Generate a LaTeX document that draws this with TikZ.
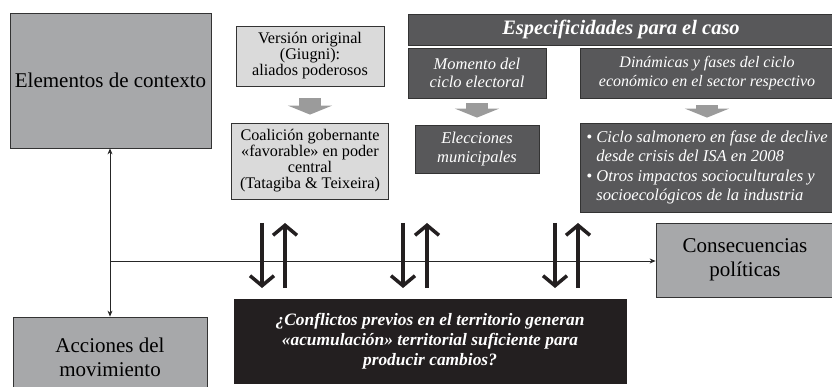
\documentclass[tikz,border=0pt]{standalone}
\usepackage{fontspec}
\setmainfont{Liberation Serif}
\usetikzlibrary{arrows.meta}
\definecolor{contextgray}{HTML}{A7A8AA}
\definecolor{palegray}{HTML}{DADADA}
\definecolor{darkbox}{HTML}{58585A}
\definecolor{blockgray}{HTML}{9B9B9B}
\definecolor{inkblack}{HTML}{231F20}
\begin{document}
\begin{tikzpicture}[x=1pt,y=-1pt,
    mainbox/.style={draw=black!80, fill=contextgray, line width=0.8pt, align=center,
      inner sep=0pt, font=\fontsize{21}{24}\selectfont},
    palebox/.style={draw=black!80, fill=palegray, line width=0.8pt, align=center,
      inner sep=0pt, font=\fontsize{16.2}{16}\selectfont},
    darkbox/.style={draw=black!80, fill=darkbox, text=white, line width=0.8pt, align=center,
      inner sep=0pt, font=\itshape\fontsize{16.5}{18.5}\selectfont},
    thinarrow/.style={draw=black!85, line width=0.8pt, -{Stealth[length=6pt,width=5pt]}},
    blockarrow/.style={draw=blockgray, line width=22pt, -{Triangle[length=9pt,width=44pt]}},
    updown/.style={draw=inkblack, line width=3.5pt, -{Straight Barb[length=10pt,width=24pt]}}]
  \useasboundingbox (0,0) rectangle (832,387);

  % Main boxes
  \node[mainbox, minimum width=201pt, minimum height=135pt] (contexto) at (110.5,80.5) {Elementos de contexto};
  \node[mainbox, minimum width=194pt, minimum height=80pt] (acciones) at (110,357) {Acciones del\\movimiento};
  \node[mainbox, minimum width=178pt, minimum height=74pt] (consecuencias) at (745,260) {Consecuencias\\políticas};

  % Political opportunity
  \node[palebox, minimum width=148pt, minimum height=60pt] (version) at (310,56) {Versión original\\(Giugni):\\aliados poderosos};
  \node[palebox, minimum width=157pt, minimum height=76pt] (coalicion) at (310,161) {Coalición gobernante\\«favorable» en poder\\central\\(Tatagiba \& Teixeira)};

  % Case specifics
  \node[darkbox, minimum width=426pt, minimum height=31pt, font=\bfseries\itshape\fontsize{20.5}{24}\selectfont] (especificidades) at (621,29.5) {Especificidades para el caso};
  \node[darkbox, minimum width=138pt, minimum height=50pt] (momento) at (477,73) {Momento del\\ciclo electoral};
  \node[darkbox, minimum width=254pt, minimum height=50pt, font=\itshape\fontsize{16}{18.5}\selectfont] (dinamicas) at (707,73) {Dinámicas y fases del ciclo\\económico en el sector respectivo};
  \node[darkbox, minimum width=124pt, minimum height=48pt] (elecciones) at (477,149) {Elecciones\\municipales};
  \node[darkbox, minimum width=254pt, minimum height=89pt, align=left, font=\itshape\fontsize{16.6}{19.5}\selectfont] (impactos) at (707,167.5)
    {\textbullet\ Ciclo salmonero en fase de declive\\\phantom{\textbullet\ }desde crisis del ISA en 2008\\\textbullet\ Otros impactos socioculturales y\\\phantom{\textbullet\ }socioecológicos de la industria};

  % Territorial question
  \node[draw=inkblack, fill=inkblack, text=white, align=center, inner sep=0pt, minimum width=392pt, minimum height=84pt,
    font=\bfseries\itshape\fontsize{17.4}{20}\selectfont] (conflicto) at (430,341)
    {¿Conflictos previos en el territorio generan\\«acumulación» territorial suficiente para\\producir cambios?};

  % Block arrows
  \draw[blockarrow] ([yshift=-12pt]version.south) -- ([yshift=8pt]coalicion.north);
  \draw[blockarrow] ([yshift=-5pt]momento.south) -- ([yshift=7pt]elecciones.north);
  \draw[blockarrow] ([yshift=-7pt]dinamicas.south) -- ([yshift=5pt]impactos.north);

  % Connectors
  \coordinate (hub) at (110,261);
  \draw[thinarrow] (hub) -- (hub |- contexto.south);
  \draw[thinarrow] (hub) -- (hub |- acciones.north);
  \draw[thinarrow] (hub) -- (hub -| consecuencias.west);

  \foreach \xd/\xu in {262/285,403/427,555/578}{
    \draw[updown] (\xd,223) -- (\xd,288);
    \draw[updown] (\xu,288) -- (\xu,223);
  }
\end{tikzpicture}
\end{document}
